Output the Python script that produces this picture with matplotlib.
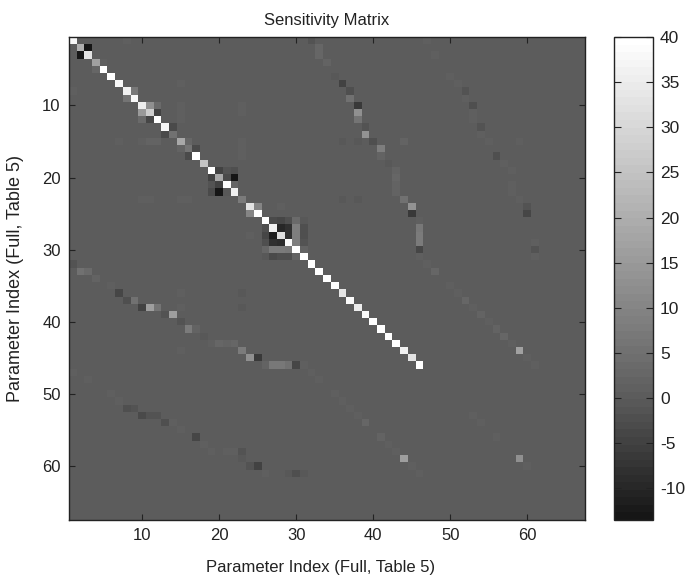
import numpy as np
import matplotlib
matplotlib.use("Agg")
import matplotlib.pyplot as plt
from matplotlib.colors import LinearSegmentedColormap

plt.rcParams['font.family'] = ['Liberation Sans', 'DejaVu Sans']
plt.rcParams['axes.unicode_minus'] = False

size = 67

# main diagonal, parameters 1..46
diagonal = [38, 20, 33, 17, 40, 40, 38, 36, 38, 35, 28, 40, 38, 5, 19, 6, 40, 25, 40, 19,
            40, 36, 8, 33, 40, 40, 36, 32, 39, 40, 40, 40, 40, 40, 40, 34, 39, 35, 39, 40,
            40, 40, 40, 36, 33, 40]

# upper part next to the diagonal
near_rows = [2, 4, 8, 10, 10, 11, 13, 15, 16, 19, 19, 19, 20, 20, 21, 24,
             26, 26, 26, 26, 26, 27, 27, 27, 27, 28, 28, 28, 29, 29, 30]
near_cols = [3, 5, 9, 11, 12, 12, 14, 16, 17, 20, 21, 22, 21, 22, 22, 25,
             27, 28, 29, 30, 31, 28, 29, 30, 31, 29, 30, 31, 30, 31, 31]
near_vals = [-13, 1, 7, 13, 4, -5, -3, 3, -3, -5, -1.5, -2.5, -3, -13, 3, 10,
             -3, -3.5, -2.5, 4, -0.5, -10, -8, 9, -2, -8, 9, -2, 9, -1.5, 2]

# lower part next to the diagonal
corner_rows = [3, 5, 9, 11, 12, 12, 14, 16, 17, 20, 21, 22, 21, 22, 22, 25,
               27, 28, 28, 29, 29, 29, 30, 30, 30, 30, 31, 31, 31, 31, 31]
corner_cols = [2, 4, 8, 10, 10, 11, 13, 15, 16, 19, 19, 19, 20, 20, 21, 24,
               26, 26, 27, 26, 27, 28, 26, 27, 28, 29, 26, 27, 28, 29, 30]
corner_vals = [-13, 3, 6, 15, 4, -4, -3, 2, -3, -5, -1.5, -3, -5, -13, -0.5, 10,
               -2, -4, -11, -2, -8, -9, 3, 8, 8, 7, -0.5, -3, -2.5, -2, 2]

# first side band, upper right
band_rows = [1, 2, 3, 4, 6, 7, 8, 9, 10, 11, 12, 13, 14, 15, 15, 15, 16, 17, 18,
             19, 20, 21, 22, 23, 24, 25, 26, 27, 28, 29, 30, 31, 32, 33,
             35, 36, 37, 38, 39, 40, 41, 42, 43, 44, 45, 46]
band_cols = [32, 33, 33, 34, 35, 36, 37, 37, 38, 38, 38, 39, 39, 36, 38, 40, 41, 41, 42,
             43, 43, 43, 43, 44, 45, 45, 46, 46, 46, 46, 46, 46, 47, 48,
             50, 51, 52, 53, 54, 55, 56, 57, 58, 59, 60, 61]
band_vals = [-1.5, 3, 2.5, 2, -0.5, -5, -2.5, 5, -6, 13, 6, -1, 14, -0.5, -0.5, -2, 9, 2, -0.5,
             2, 3, 2, 2, 5, 14, -6, 1.5, 7, 8, 8, -4, 1.5, 1.5, 2.5,
             1.5, 1, 2.5, 1.5, 2, 1, 2, 2.5, 1, 17, 1, 1]

# first side band and second band, lower left
low_rows = [32, 33, 33, 34, 35, 36, 37, 37, 38, 38, 38, 39, 39, 40, 41, 41, 42,
            43, 43, 43, 43, 44, 45, 45, 46, 46, 46, 46, 46, 46, 47, 48,
            50, 51, 52, 53, 54, 56, 57, 58, 59, 60, 61,
            47, 48, 50, 51, 52, 52, 53, 53, 53, 54, 54, 55, 56, 57, 58, 58, 58, 58, 59, 60, 60,
            61, 61, 61, 61]
low_cols = [1, 2, 3, 4, 6, 7, 8, 9, 10, 11, 12, 13, 14, 15, 16, 17, 18,
            19, 20, 21, 22, 23, 24, 25, 26, 27, 28, 29, 30, 31, 32, 33,
            35, 36, 37, 38, 39, 41, 42, 43, 44, 45, 46,
            1, 3, 6, 7, 8, 9, 10, 11, 12, 13, 14, 15, 17, 18, 19, 21, 22, 23, 23, 24, 25,
            26, 29, 30, 31]
low_vals = [-1.5, 5, 4, 2, 1, -4, -2.5, 5, -5, 16, 6, -1.5, 16, -1.5, 8, 2, -0.5,
            1.5, 3, 2, 3, 8, 13, -6, 2, 7, 7, 5, -3.5, 1, 1, 1.5,
            1, 1, 1.5, 1.5, 2.5, 2, 1.5, 1, 16, 1, 1,
            1, 1, 1, 1, -2.5, -1, -3, -1.5, -1.5, -2.5, 1, 1, -3.5, 1, 1, 1, 1, -1, -0.5, -1, -4.5,
            1, -0.5, -2, -0.5]

# far right bands
far_rows = [1, 3, 6, 7, 8, 9, 10, 11, 12, 13, 14, 15, 15, 17, 18, 19, 21, 22, 23, 24, 25,
            29, 30, 31, 53, 54, 56, 59, 60, 44, 59]
far_cols = [47, 48, 50, 51, 52, 52, 53, 53, 53, 54, 54, 55, 59, 56, 57, 58, 58, 58, 59, 60, 60,
            61, 61, 61, 53, 54, 56, 59, 60, 59, 44]
far_vals = [1, 1, 1, 1, -1.5, 1, -2, 1, 1, -1.5, 1, 1, 1, -2.5, 1, 1, 1, 1, 1, -1, -4,
            1, -1.5, 1, 1, 1, 1, 13, 1, 17, 16]

# small isolated values
faint_rows = [1, 7, 8, 10, 11, 12, 15, 15, 15, 15, 15, 16, 17, 23, 23, 23, 23, 23, 23, 28,
              36, 36, 38, 38, 44, 44, 23, 24, 10, 11, 15]
faint_cols = [8, 15, 1, 15, 15, 15, 7, 10, 11, 12, 23, 23, 23, 10, 11, 15, 16, 36, 38, 24,
              15, 23, 15, 23, 15, 23, 44, 28, 23, 23, 44]
faint_vals = [1, 1, 1, 1, 1, 1, 1, 1, 2, 2, 1, 1, 1, 1, 1, 1, 1, -0.5, -0.5, 1,
              1, -0.5, 1, -0.5, 1.5, 8, 5, 1, 1, 1, 2]

matrix = np.zeros((size, size))
for i in range(len(diagonal)):
    matrix[i, i] = diagonal[i]
for rows, cols, vals in [(near_rows, near_cols, near_vals),
                         (corner_rows, corner_cols, corner_vals),
                         (band_rows, band_cols, band_vals),
                         (low_rows, low_cols, low_vals),
                         (far_rows, far_cols, far_vals),
                         (faint_rows, faint_cols, faint_vals)]:
    for r, c, v in zip(rows, cols, vals):
        matrix[r - 1, c - 1] = v

vmin = -13.5
vmax = 40
zero = (0 - vmin) / (vmax - vmin)
cmap = LinearSegmentedColormap.from_list(
    "print_gray", [(0, "#161616"), (zero, "#5c5c5c"), (1, "#ffffff")], N=64)

fig = plt.figure(figsize=(6.88, 5.80), dpi=100)
ax = fig.add_axes([69 / 688, 1 - 520 / 580, 516 / 688, 483 / 580])
im = ax.imshow(matrix, cmap=cmap, vmin=vmin, vmax=vmax, aspect="auto",
               interpolation="nearest", extent=(0.5, 67.5, 67.5, 0.5))
ax.set_xticks([10, 20, 30, 40, 50, 60])
ax.set_yticks([10, 20, 30, 40, 50, 60])
ax.tick_params(direction="in", top=True, right=True, length=4, width=0.8,
               labelsize=12, pad=6, color="#222222", labelcolor="#222222")
ax.set_title("Sensitivity Matrix", fontsize=12, pad=9, color="#222222")
ax.set_xlabel("Parameter Index (Full, Table 5)", fontsize=12, color="#222222")
ax.set_ylabel("Parameter Index (Full, Table 5)", fontsize=13, color="#222222")
ax.xaxis.set_label_coords(0.488, -0.083)
ax.yaxis.set_label_coords(-0.087, 0.5)
for s in ax.spines.values():
    s.set_linewidth(1)
    s.set_color("#222222")

cax = fig.add_axes([614 / 688, 1 - 520 / 580, 39 / 688, 483 / 580])
cb = fig.colorbar(im, cax=cax)
cb.set_ticks([-10, -5, 0, 5, 10, 15, 20, 25, 30, 35, 40])
cb.ax.tick_params(direction="in", left=True, right=True, length=5, width=0.8,
                  labelsize=12.5, pad=5, color="#222222", labelcolor="#222222")
cb.outline.set_linewidth(1)
cb.outline.set_edgecolor("#222222")

fig.savefig("out.png", dpi=100)
